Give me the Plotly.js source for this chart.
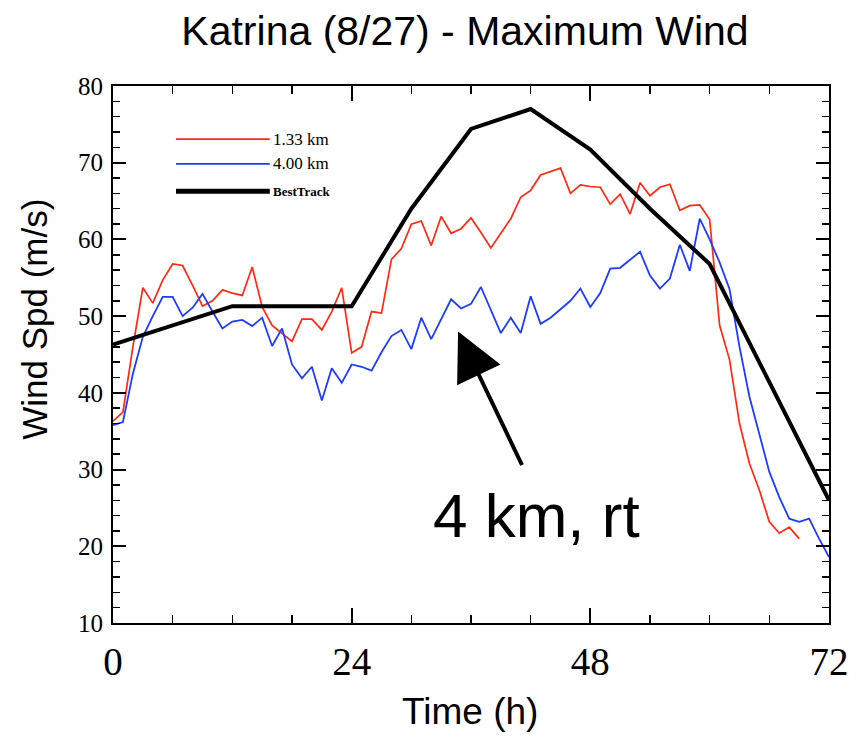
<!DOCTYPE html>
<html>
<head>
<meta charset="utf-8">
<script src="https://cdn.plot.ly/plotly-3.0.1.min.js"></script>
<style>
  html, body { margin: 0; padding: 0; background: #fff; }
  #chart { width: 867px; height: 738px; }
</style>
</head>
<body>
<div id="chart"></div>
<script>
// Katrina (8/27) maximum wind speed, hourly model output vs. 6-hourly best track
const hours13 = [0,1,2,3,4,5,6,7,8,9,10,11,12,13,14,15,16,17,18,19,20,21,22,23,24,
  25,26,27,28,29,30,31,32,33,34,35,36,37,38,39,40,41,42,43,44,45,46,47,48,
  49,50,51,52,53,54,55,56,57,58,59,60,61,62,63,64,65,66,67,68,69];
const wind13 = [36.3,37.5,46.0,53.7,51.7,54.7,56.8,56.6,54.0,51.3,52.0,53.4,53.0,52.7,56.4,51.2,48.8,47.7,46.7,49.6,49.6,48.2,50.6,53.7,45.2,
  46.0,50.6,50.4,57.4,58.8,62.0,62.4,59.2,63.0,60.8,61.4,62.8,60.9,58.9,60.8,62.7,65.5,66.4,68.4,68.8,69.3,66.0,67.1,66.9,
  66.8,64.6,65.9,63.3,67.4,65.7,66.8,67.2,63.8,64.4,64.5,62.6,48.8,44.3,36.0,30.8,27.3,23.2,21.7,22.5,21.0];

const hours40 = [0,1,2,3,4,5,6,7,8,9,10,11,12,13,14,15,16,17,18,19,20,21,22,23,24,
  25,26,27,28,29,30,31,32,33,34,35,36,37,38,39,40,41,42,43,44,45,46,47,48,
  49,50,51,52,53,54,55,56,57,58,59,60,61,62,63,64,65,66,67,68,69,70,71,72];
const wind40 = [35.8,36.2,42.5,47.3,50.0,52.5,52.5,50.0,51.1,52.9,50.6,48.4,49.3,49.5,48.7,49.8,46.1,48.4,43.7,41.9,43.4,39.0,43.2,41.3,43.7,
  43.4,42.9,45.3,47.4,48.2,45.7,49.8,47.0,49.6,52.2,51.0,51.6,53.8,50.9,47.8,49.8,47.8,52.6,49.0,49.8,50.9,52.0,53.6,51.2,
  53.0,56.2,56.3,57.3,58.4,55.3,53.6,54.9,59.3,55.9,62.7,60.0,57.0,53.5,46.0,39.5,34.5,29.7,26.4,23.6,23.2,23.6,21.0,18.6];

const hoursBT = [0,6,12,18,24,30,36,42,48,54,60,66,72];
const windBT = [46.3,48.8,51.3,51.3,51.3,64.0,74.4,77.0,71.7,64.0,56.8,41.4,26.0];

const seriesNames = ['1.33 km', '4.00 km', 'BestTrack'];
const seriesColors = ['#ff2a10', '#1e3cff', '#000000'];
const seriesWidths = [1.7, 1.8, 4];

const xTicks = [0, 24, 48, 72];
const yTicks = [10, 20, 30, 40, 50, 60, 70, 80];

const traces = [
  {x: hours13, y: wind13}, {x: hours40, y: wind40}, {x: hoursBT, y: windBT}
].map((d, i) => ({
  x: d.x, y: d.y, type: 'scatter', mode: 'lines', name: seriesNames[i],
  line: {color: seriesColors[i], width: seriesWidths[i]}, showlegend: false
}));

// hand-drawn style key in the upper left of the plot area
const keyX0 = 0.088, keyX1 = 0.219, keyY = [0.901, 0.855, 0.804];
const shapes = seriesNames.map((n, i) => ({
  type: 'line', xref: 'paper', yref: 'paper',
  x0: keyX0, x1: keyX1, y0: keyY[i], y1: keyY[i],
  line: {color: seriesColors[i], width: i === 2 ? 5 : 1.8}
}));
const keyLabels = seriesNames.map((n, i) => ({
  xref: 'paper', yref: 'paper', x: keyX1 + 0.001, y: keyY[i],
  xanchor: 'left', yanchor: 'middle', showarrow: false, text: n,
  font: {family: 'Liberation Serif, serif', size: i === 2 ? 13 : 17, color: '#000',
         weight: i === 2 ? 'bold' : 'normal'}
}));

const annotations = keyLabels.concat([
  {
    x: 34.7, y: 48.0, xref: 'x', yref: 'y',
    ax: 41.2, ay: 30.4, axref: 'x', ayref: 'y',
    showarrow: true, arrowhead: 2, arrowsize: 2.4, arrowwidth: 4, arrowcolor: '#000', text: ''
  },
  {
    x: 42.6, y: 24.0, xref: 'x', yref: 'y', showarrow: false,
    text: '4 km, rt', font: {family: 'Liberation Sans, Arial, sans-serif', size: 62, color: '#000'}
  },
  {
    xref: 'paper', yref: 'paper', x: 0.499, y: -0.165, showarrow: false,
    text: 'Time (h)', xanchor: 'center', yanchor: 'middle',
    font: {family: 'Liberation Sans, Arial, sans-serif', size: 37, color: '#000'}
  },
  {
    xref: 'paper', yref: 'paper', x: -0.11, y: 0.565, showarrow: false,
    text: 'Wind Spd (m/s)', textangle: -90, xanchor: 'center', yanchor: 'middle',
    font: {family: 'Liberation Sans, Arial, sans-serif', size: 35, color: '#000'}
  }
]);

const axisCommon = {
  showline: true, linecolor: '#000', linewidth: 2, mirror: 'ticks',
  ticks: 'inside', tickcolor: '#000', tickwidth: 2,
  showgrid: false, zeroline: false, fixedrange: true
};

const layout = {
  width: 867, height: 738,
  margin: {l: 113, r: 38, t: 86, b: 115},
  paper_bgcolor: '#fff', plot_bgcolor: '#fff',
  title: {
    text: 'Katrina (8/27) - Maximum Wind',
    x: 465 / 867, xanchor: 'center', xref: 'container',
    y: 1 - 31 / 738, yanchor: 'middle', yref: 'container',
    font: {family: 'Liberation Sans, Arial, sans-serif', size: 41, color: '#000'}
  },
  xaxis: Object.assign({}, axisCommon, {
    range: [0, 72], tickvals: xTicks, ticktext: xTicks.map(String), ticklen: 15,
    minor: {ticks: 'inside', dtick: 6, tick0: 0, ticklen: 8, tickcolor: '#000', tickwidth: 1.5},
    ticklabelstandoff: 3,
    tickfont: {family: 'Liberation Serif, serif', size: 39, color: '#000'}
  }),
  yaxis: Object.assign({}, axisCommon, {
    range: [10, 80], tickvals: yTicks, ticktext: yTicks.map(String), ticklen: 13,
    minor: {ticks: 'inside', dtick: 2, tick0: 0, ticklen: 7, tickcolor: '#000', tickwidth: 1.5},
    ticklabelstandoff: 3,
    tickfont: {family: 'Liberation Serif, serif', size: 25, color: '#000'}
  }),
  shapes: shapes,
  annotations: annotations
};

Plotly.newPlot('chart', traces, layout, {displayModeBar: false, staticPlot: true});
</script>
</body>
</html>
